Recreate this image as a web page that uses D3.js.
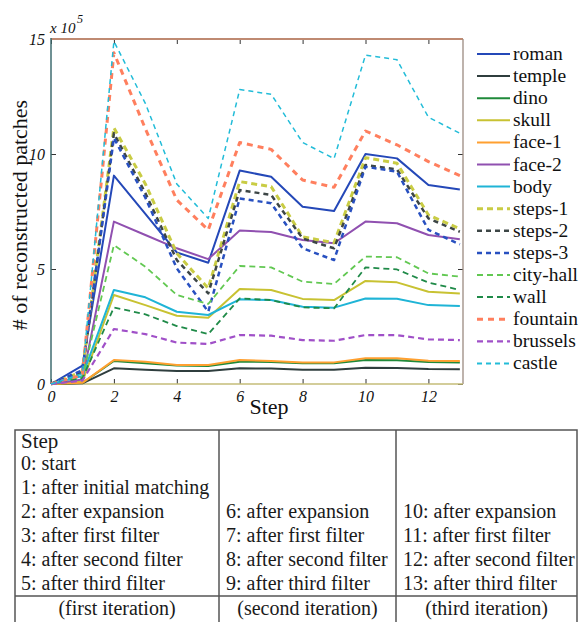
<!DOCTYPE html>
<html><head><meta charset="utf-8">
<script src="https://cdn.jsdelivr.net/npm/d3@7"></script>
<style>html,body{margin:0;padding:0;background:#fff;}svg{display:block;} text{font-family:"Liberation Serif","Times New Roman",Times,serif;}</style>
</head><body>
<svg id="c" width="582" height="622"></svg>
<script>
// ---- data (values in units of 10^5) ----
const steps = [0,1,2,3,4,5,6,7,8,9,10,11,12,13];
const names = ["roman","temple","dino","skull","face-1","face-2","body","steps-1","steps-2","steps-3","city-hall","wall","fountain","brussels","castle"];
const roman    = [0,0.80,9.06,7.40,5.72,5.27,9.28,9.01,7.71,7.52,10.0,9.81,8.65,8.46];
const temple   = [0,0.03,0.68,0.62,0.57,0.57,0.68,0.67,0.62,0.62,0.71,0.70,0.65,0.64];
const dino     = [0,0.05,1.00,0.90,0.80,0.78,0.97,0.96,0.90,0.90,1.04,1.03,0.96,0.94];
const skull    = [0,0.10,3.87,3.43,2.97,2.88,4.13,4.09,3.70,3.65,4.48,4.42,4.01,3.94];
const face1    = [0,0.05,1.04,0.97,0.83,0.83,1.04,1.00,0.94,0.94,1.12,1.12,1.01,1.00];
const face2    = [0,0.20,7.06,6.48,5.90,5.43,6.67,6.61,6.26,6.12,7.06,6.99,6.48,6.29];
const body     = [0,0.35,4.09,3.77,3.14,3.00,3.68,3.65,3.36,3.32,3.72,3.71,3.43,3.39];
const steps1   = [0,0.55,11.14,8.70,5.68,4.16,8.80,8.58,6.40,6.14,9.84,9.60,7.35,6.75];
const steps2   = [0,0.50,10.90,8.30,5.39,3.94,8.43,8.22,6.33,5.90,9.52,9.33,7.20,6.62];
const steps3   = [0,0.60,10.70,8.10,5.03,3.14,8.07,7.86,5.90,5.39,9.45,9.23,6.70,6.07];
const cityhall = [0,0.30,6.04,5.10,3.87,3.48,5.13,5.07,4.45,4.35,5.54,5.51,4.81,4.67];
const wall     = [0,0.25,3.33,3.03,2.52,2.17,3.72,3.65,3.33,3.29,5.07,4.98,4.41,4.09];
const fountain = [0,0.40,14.4,11.1,8.00,6.70,10.5,10.2,8.87,8.55,11.0,10.4,9.67,9.06];
const brussels = [0,0.15,2.39,2.17,1.80,1.74,2.13,2.10,1.91,1.88,2.13,2.12,1.94,1.91];
const castle   = [0,0.45,14.9,12.2,8.70,7.20,12.8,12.6,10.5,9.80,14.3,14.1,11.6,10.9];
const seriesValues = [roman,temple,dino,skull,face1,face2,body,steps1,steps2,steps3,cityhall,wall,fountain,brussels,castle];
const xTicks = [0,2,4,6,8,10,12];
const yTicks = [0,5,10,15];
const tableCol1 = ["0: start","1: after initial matching","2: after expansion","3: after first filter","4: after second filter","5: after third filter"];
const tableCol2 = ["6: after expansion","7: after first filter","8: after second filter","9: after third filter"];
const tableCol3 = ["10: after expansion","11: after first filter","12: after second filter","13: after third filter"];
const iterations = ["(first iteration)","(second iteration)","(third iteration)"];

// ---- styles ----
const styles = {
  "roman":    {c:"#2448b8", w:2,   d:null},
  "temple":   {c:"#2f3e3e", w:2,   d:null},
  "dino":     {c:"#1f8a3a", w:2,   d:null},
  "skull":    {c:"#c8c232", w:2,   d:null},
  "face-1":   {c:"#ffa030", w:2,   d:null},
  "face-2":   {c:"#9050b0", w:2,   d:null},
  "body":     {c:"#1fb4d6", w:2,   d:null},
  "steps-1":  {c:"#c9cc44", w:3,   d:"6,4"},
  "steps-2":  {c:"#3d4646", w:2.5, d:"5,4"},
  "steps-3":  {c:"#2850c0", w:2.5, d:"5,4"},
  "city-hall":{c:"#62c852", w:1.8, d:"6,4"},
  "wall":     {c:"#1f8a48", w:1.8, d:"6,4"},
  "fountain": {c:"#ff7f5e", w:3,   d:"6,5"},
  "brussels": {c:"#a050c8", w:2.2, d:"6,4"},
  "castle":   {c:"#22bcd8", w:1.5, d:"5,4"}
};

const svg = d3.select("#c");
const x = d3.scaleLinear().domain([0,13.1]).range([51,463]);
const y = d3.scaleLinear().domain([0,15]).range([384,39]);

// axes with inward ticks
const gx = svg.append("g").attr("transform","translate(0,384)")
  .call(d3.axisBottom(x).tickValues(xTicks).tickSize(-5).tickPadding(7));
const gxt = svg.append("g").attr("transform","translate(0,39)")
  .call(d3.axisTop(x).tickValues(xTicks).tickSize(-5).tickFormat(""));
const gy = svg.append("g").attr("transform","translate(51,0)")
  .call(d3.axisLeft(y).tickValues(yTicks).tickSize(-5).tickPadding(6));
const gyr = svg.append("g").attr("transform","translate(463,0)")
  .call(d3.axisRight(y).tickValues(yTicks).tickSize(-5).tickFormat(""));
[gx,gxt,gy,gyr].forEach(g=>{
  g.attr("font-family",null);
  g.select(".domain").remove();
  g.selectAll(".tick line").attr("stroke","#333").attr("stroke-width",1);
  g.selectAll("text").attr("font-style","italic").attr("font-size",16).attr("fill","#111");
});

// frame
svg.append("line").attr("x1",51).attr("x2",463).attr("y1",39).attr("y2",39).attr("stroke","#bf8a72").attr("stroke-width",2);
svg.append("line").attr("x1",463).attr("x2",463).attr("y1",39).attr("y2",384).attr("stroke","#9b8a80").attr("stroke-width",1.3);
svg.append("line").attr("x1",51).attr("x2",51).attr("y1",38).attr("y2",384).attr("stroke","#3f6d70").attr("stroke-width",1.5);
svg.append("line").attr("x1",51).attr("x2",463).attr("y1",384).attr("y2",384).attr("stroke","#c4bc78").attr("stroke-width",1.5);

// lines
const line = d3.line().x((d,i)=>x(steps[i])).y(d=>y(d));
names.forEach((n,k)=>{
  const s = styles[n];
  svg.append("path").datum(seriesValues[k]).attr("d",line)
    .attr("fill","none").attr("stroke",s.c).attr("stroke-width",s.w)
    .attr("stroke-dasharray",s.d).attr("stroke-linejoin","round");
});

// exponent label
svg.append("text").attr("x",50).attr("y",33).attr("font-style","italic").attr("font-size",15).attr("fill","#111").text("x 10");
svg.append("text").attr("x",77).attr("y",23).attr("font-style","italic").attr("font-size",12).attr("fill","#111").text("5");

// axis titles
svg.append("text").attr("transform","translate(27,215) rotate(-90)").attr("text-anchor","middle")
  .attr("font-size",22).attr("fill","#111").text("# of reconstructed patches");
svg.append("text").attr("x",269).attr("y",414).attr("text-anchor","middle")
  .attr("font-size",22).attr("fill","#111").text("Step");

// legend
names.forEach((n,k)=>{
  const s = styles[n];
  const ly = 54 + k*22.1;
  svg.append("line").attr("x1",477).attr("x2",510).attr("y1",ly).attr("y2",ly)
    .attr("stroke",s.c).attr("stroke-width",Math.max(s.w,2)).attr("stroke-dasharray",s.d);
  svg.append("text").attr("x",513).attr("y",ly+6).attr("font-size",19.5).attr("fill","#111").text(n);
});

// table
const tl = "#555";
const T = svg.append("g");
T.append("rect").attr("x",15).attr("y",430).attr("width",562).attr("height",195).attr("fill","none").attr("stroke",tl).attr("stroke-width",1.5);
[219,396].forEach(cx=>T.append("line").attr("x1",cx).attr("x2",cx).attr("y1",430).attr("y2",625).attr("stroke",tl).attr("stroke-width",1.5));
T.append("line").attr("x1",15).attr("x2",577).attr("y1",596).attr("y2",596).attr("stroke",tl).attr("stroke-width",1.5);
const tf = (xx,yy,t,anchor)=>T.append("text").attr("x",xx).attr("y",yy).attr("text-anchor",anchor||"start")
  .attr("font-size",20).attr("fill","#1a1a1a").text(t);
T.append("text").attr("x",21).attr("y",448).attr("font-size",21).attr("fill","#1a1a1a").text("Step");
tableCol1.forEach((t,i)=>tf(21,470+24*i,t));
tableCol2.forEach((t,i)=>tf(226,470+24*(i+2),t));
tableCol3.forEach((t,i)=>tf(403,470+24*(i+2),t));
[117,307.5,486.5].forEach((cx,i)=>tf(cx,615,iterations[i],"middle"));
</script>
</body></html>
